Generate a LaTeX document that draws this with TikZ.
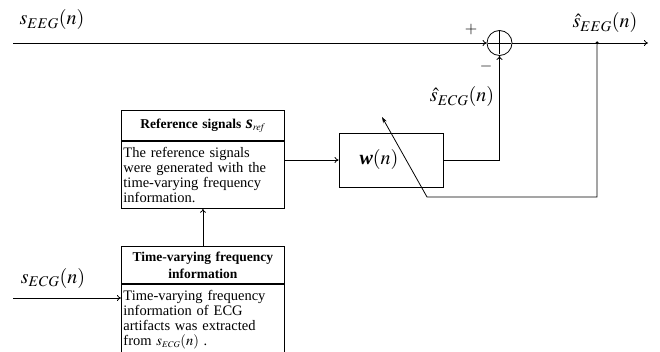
\documentclass[tikz,border=0pt]{standalone}
\usepackage{mathptmx}
\usepackage[no-math]{fontspec}
\setmainfont{Liberation Serif}
\usetikzlibrary{arrows.meta,positioning}

\begin{document}
\begin{tikzpicture}[
      x=1pt, y=-1pt,
      sig/.style={-{To[length=4pt,width=6pt]}, line width=0.8pt},
      headbox/.style={draw, line width=0.9pt, minimum width=163pt,
                  text width=159pt, align=center, inner sep=2pt,
                  font=\fontsize{13.5}{17}\selectfont\bfseries},
      bodybox/.style={draw, line width=0.9pt, minimum width=163pt,
                  text width=159pt, align=left, inner sep=2pt,
                  font=\fontsize{14.5}{15}\selectfont},
      sumnode/.style={draw, circle, line width=0.8pt, minimum size=25pt, inner sep=0pt,
                  path picture={\draw[line width=0.8pt]
                    ([yshift=-1pt]path picture bounding box.north) -- ([yshift=1pt]path picture bounding box.south)
                    ([xshift=1pt]path picture bounding box.west) -- ([xshift=-1pt]path picture bounding box.east);}},
      dot/.style={circle, fill, inner sep=0pt, minimum size=3.5pt},
      lbl/.style={font=\fontsize{20}{20}\selectfont, inner sep=1pt}
    ]
    \useasboundingbox (0,0) rectangle (660,352);
    % summing point and taps
    \node[sumnode] (sum) at (499.5,43) {};
    \coordinate (eegin) at (13,43);
    \coordinate (eegout) at (648,43);
    \node[dot] (tap) at (597,43) {};
    \coordinate (fbcorner) at (597,197);
    \coordinate (fbfoot) at (427,197);
    \coordinate (fbtip) at (382,117);
    \coordinate (ecgin) at (13,298);
    % blocks
    \node[draw, line width=0.9pt, minimum width=104pt, minimum height=54pt,
          font=\fontsize{20}{20}\selectfont] (wbox) at (391,160)
      {\textbf{\textit{w}}$(n)$\hspace*{24pt}};
    \node[headbox, minimum height=30pt, anchor=north west] (refhead) at (121,110)
      {Reference signals {\fontsize{18}{18}\selectfont\textit{s}}$_{\mathit{ref}}$};
    \node[bodybox, minimum height=67pt, anchor=north west] (refbody) at (refhead.south west)
      {The reference signals\\were generated with the\\time-varying frequency\\information.};
    \node[headbox, minimum height=37pt, anchor=north west] (timehead) at (121,246)
      {Time-varying frequency\\information};
    \node[bodybox, minimum height=70pt, anchor=north west] (timebody) at (timehead.south west)
      {Time-varying frequency\\information of ECG\\artifacts was extracted\\from $s_{\scriptscriptstyle ECG}(n)$ .};
    % labels
    \node[lbl] (eeglbl) at (52,20) {$s_{EEG}(n)$};
    \node[lbl] (eeghat) at (605,23) {$\hat{s}_{EEG}(n)$};
    \node[lbl] (ecghat) at (462,97) {$\hat{s}_{ECG}(n)$};
    \node[lbl] (ecglbl) at (53,278) {$s_{ECG}(n)$};
    \node[font=\fontsize{16}{16}\selectfont] (plus) at (471,30) {$+$};
    \node[font=\fontsize{16}{16}\selectfont] (minus) at (486,67) {$-$};
    % connectors
    \draw[sig] (eegin) -- (sum.west);
    \draw[sig] (sum.east) -- (eegout);
    \draw[line width=0.8pt, -{Stealth[length=6pt,width=4pt]}] (tap) -- (fbcorner) -- (fbfoot) -- (fbtip);
    \draw[sig] (wbox.east) -| (sum.south);
    \draw[sig] (refbody.east |- wbox.west) -- (wbox.west);
    \draw[sig] (timehead.north) -- (refbody.south);
    \draw[sig] (ecgin) -- (timebody.west |- ecgin);
  \end{tikzpicture}
\end{document}
